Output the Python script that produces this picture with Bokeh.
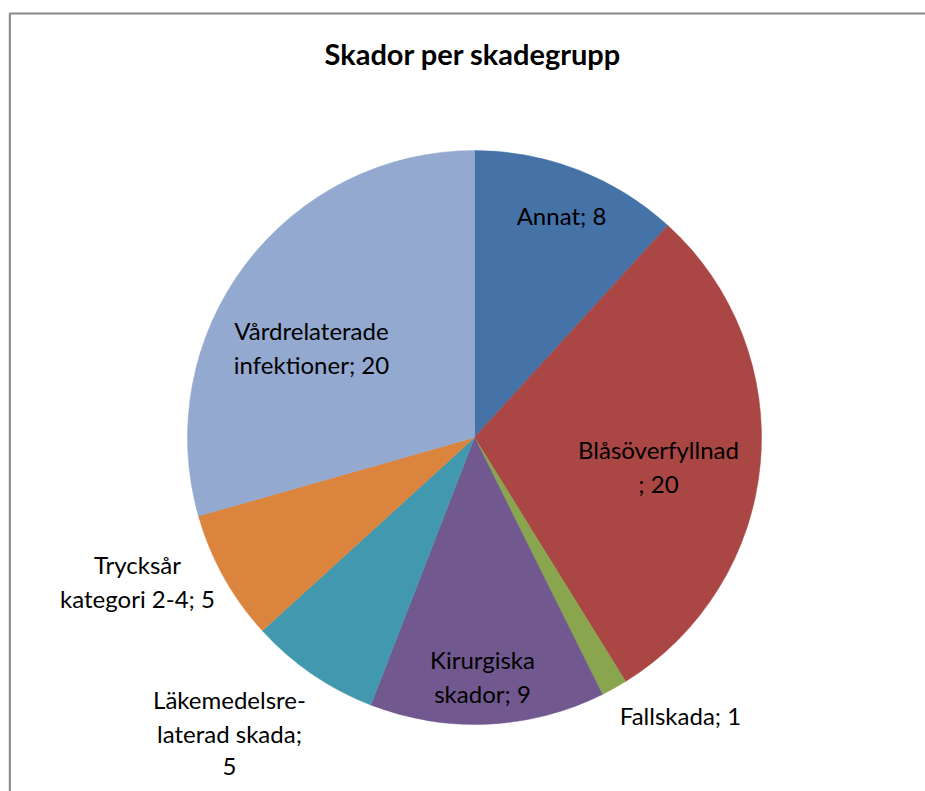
import math
from bokeh.plotting import figure
from bokeh.models import ColumnDataSource, Range1d
from bokeh.core.properties import value
from bokeh.embed import file_html
from bokeh.resources import INLINE

# ---- data ----
categories = ["Annat", "Blåsöverfyllnad", "Fallskada", "Kirurgiska skador",
              "Läkemedelsrelaterad skada", "Trycksår kategori 2-4",
              "Vårdrelaterade infektioner"]
counts = [8, 20, 1, 9, 5, 5, 20]
colors = ["#4572A7", "#AA4643", "#89A54E", "#71588F", "#4198AF", "#DB843D", "#93A9CF"]
# label text lines as Excel wrapped them
label_lines = [
    ["Annat; 8"],
    ["Blåsöverfyllnad", "; 20"],
    ["Fallskada; 1"],
    ["Kirurgiska", "skador; 9"],
    ["Läkemedelsre-", "laterad skada;", "5"],
    ["Trycksår", "kategori 2-4; 5"],
    ["Vårdrelaterade", "infektioner; 20"],
]
title = "Skador per skadegrupp"

# ---- layout (pixels in page coordinates) ----
W, H = 925, 791
def px(sx, sy):
    return sx, H - sy

CX, CY = px(474, 437)
R = 287
# anchor (center x, first-line baseline y) of each label, page pixels
label_anchor = [(561, 223), (658, 457), (680, 723), (482, 667),
                (229, 707), (137, 572), (311, 338)]
LINE_STEP = 33.5
TEXT_SHIFT = -8
FONT = "Lato"

total = sum(counts)
starts, ends = [], []
cum = 0
for c in counts:
    starts.append(math.pi / 2 - 2 * math.pi * cum / total)
    cum += c
    ends.append(math.pi / 2 - 2 * math.pi * cum / total)

p = figure(width=W, height=H, output_backend="svg", toolbar_location=None,
           x_range=Range1d(0, W), y_range=Range1d(0, H), min_border=0,
           tools="")
p.axis.visible = False
p.grid.visible = False
p.outline_line_color = None
p.background_fill_color = "white"
p.border_fill_color = "white"

src = ColumnDataSource(dict(start=starts, end=ends, color=colors, cat=categories, n=counts))
p.wedge(x=CX, y=CY, radius=R, start_angle="start", end_angle="end",
        direction="clock", fill_color="color", line_color="color", line_width=0.5,
        source=src)

# chart area border (left and top edges visible)
bx, by = px(9.3, 13)
p.line(x=[bx, bx, W + 5], y=[-5, by, by], line_color="#878787", line_width=2)

# title
tx, ty = px(472.5, 61 + TEXT_SHIFT)
p.text(x=[tx], y=[ty], text=[title], text_font=value(FONT), text_font_style="bold",
       text_font_size="29px", text_align="center", text_baseline="alphabetic",
       text_color="black")

xs, ys, ts = [], [], []
for lines, (ax, ay) in zip(label_lines, label_anchor):
    for i, t in enumerate(lines):
        x, y = px(ax, ay + i * LINE_STEP + TEXT_SHIFT)
        xs.append(x); ys.append(y); ts.append(t)
p.text(x=xs, y=ys, text=ts, text_font=value(FONT), text_font_size="24px",
       text_align="center", text_baseline="alphabetic", text_color="black")

open("out.html", "w").write(file_html(p, INLINE))
